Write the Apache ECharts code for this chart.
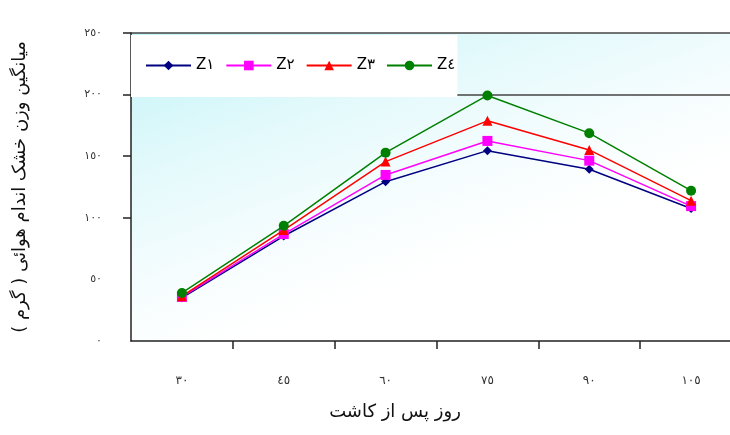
<!DOCTYPE html>
<html>
<head>
<meta charset="utf-8">
<script src="https://cdn.jsdelivr.net/npm/echarts@6/dist/echarts.min.js"></script>
<style>html,body{margin:0;padding:0;background:#fff}#c{width:730px;height:435px}</style>
</head>
<body>
<div id="c"></div>
<script>
const categories = ['٣٠','٤٥','٦٠','٧٥','٩٠','١٠٥'];
const yTickLabels = {0:'٠',50:'٥٠',100:'١٠٠',150:'١٥٠',200:'٢٠٠',250:'٢٥٠'};
const seriesNames = ['Z١','Z٢','Z٣','Z٤'];
const z1 = [35.1, 85.2, 129.3, 154.5, 139.4, 107.6];
const z2 = [35.8, 86.8, 134.8, 162.4, 146.4, 109.5];
const z3 = [36.4, 90.0, 145.6, 178.7, 155.1, 113.9];
const z4 = [39.0, 93.5, 152.9, 199.3, 168.7, 122.0];
const yTitle = 'میانگین وزن خشک اندام هوائی ( گرم )';
const xTitle = 'روز پس از کاشت';

const colors = ['#000080','#ff00ff','#ff0000','#008000'];
const symbols = ['diamond','rect','triangle','circle'];
const sizes = [9,10,10,10];
const allData = [z1,z2,z3,z4];

const chart = echarts.init(document.getElementById('c'));
chart.setOption({
  animation:false,
  title:{text:xTitle,left:390,top:398,textAlign:'center',
    textStyle:{fontFamily:'DejaVu Sans',fontSize:18,fontWeight:'normal',color:'#111'}},
  legend:{
    left:131, top:35, backgroundColor:'#ffffff',
    padding:[23,2,24,14], itemGap:11, itemWidth:45, itemHeight:12,
    textStyle:{fontFamily:'DejaVu Sans',fontSize:15,color:'#000'},
    data:seriesNames
  },
  grid:{left:131,top:33,width:611,height:308,show:true,borderWidth:0,outerBoundsMode:'none',
    backgroundColor:{type:'linear',x:0,y:0,x2:0.18,y2:1,
      colorStops:[{offset:0,color:'#c2f4f8'},{offset:0.4,color:'#e2f9fb'},{offset:0.75,color:'#f6fdfe'},{offset:1,color:'#ffffff'}]}},
  xAxis:{
    type:'category', data:categories, boundaryGap:true,
    axisLine:{lineStyle:{color:'#222',width:1.5}},
    axisTick:{show:true,length:8,interval:function(i){return i!==0;},lineStyle:{color:'#222',width:1.5}},
    axisLabel:{margin:34,fontFamily:'DejaVu Sans',fontSize:12,color:'#333'},
    splitLine:{show:false}
  },
  yAxis:{
    type:'value', min:0, max:250, interval:50,
    name:yTitle, nameLocation:'middle', nameGap:102, nameRotate:90,
    nameTextStyle:{fontFamily:'DejaVu Sans',fontSize:18,color:'#111'},
    axisLine:{show:true,lineStyle:{color:'#222',width:1.5}},
    axisTick:{show:true,length:8,customValues:[100,150,200,250],lineStyle:{color:'#222',width:1.5}},
    axisLabel:{margin:29,fontFamily:'DejaVu Sans',fontSize:11,color:'#333',
      formatter:function(v){return yTickLabels[v];}},
    splitLine:{show:true,lineStyle:{width:1.5,color:['rgba(0,0,0,0)','rgba(0,0,0,0)','#444','#444','#444','#000']}}
  },
  series:allData.map(function(d,i){
    return {name:seriesNames[i],type:'line',data:d,symbol:symbols[i],symbolSize:sizes[i],
      lineStyle:{color:colors[i],width:1.5},itemStyle:{color:colors[i]},z:2+i};
  })
});
</script>
</body>
</html>
